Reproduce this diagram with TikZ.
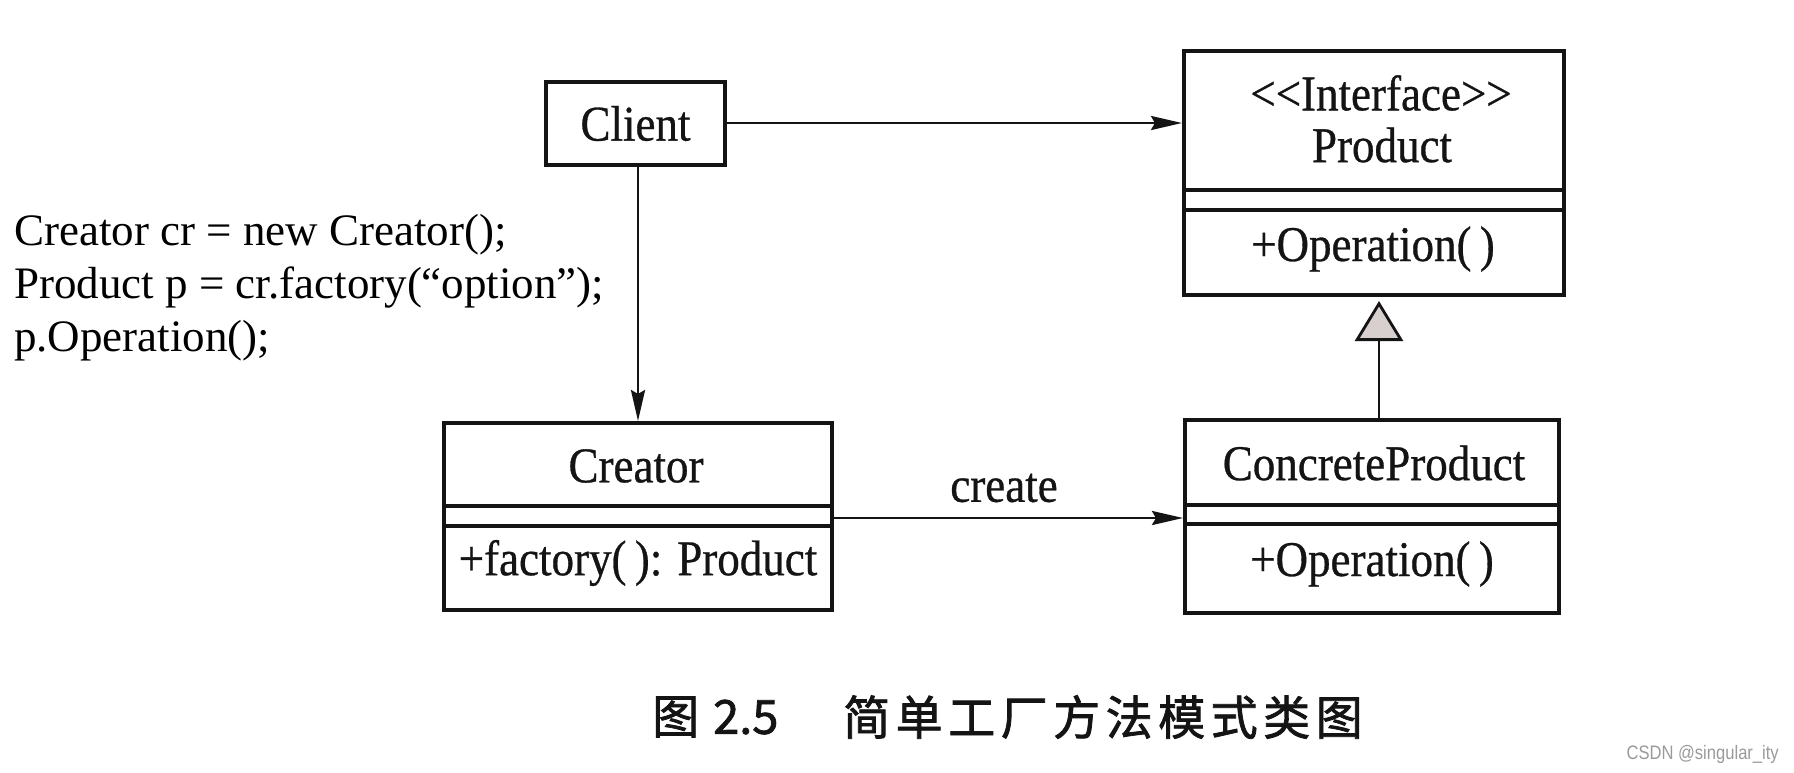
\documentclass[tikz,border=0pt]{standalone}
\usepackage{fontspec}
\setmainfont{Liberation Serif}
\newfontfamily\diagfont[FakeStretch=0.9, FakeBold=0.6]{Liberation Serif}
\newfontfamily\cjkfont[FakeBold=1.6]{Noto Sans CJK SC}
\newfontfamily\wmfont[FakeStretch=0.85]{Liberation Sans}
\usetikzlibrary{arrows.meta}
\definecolor{inkc}{HTML}{141414}
\definecolor{trifill}{HTML}{D8CFCF}
\definecolor{wmgray}{HTML}{9A9A9A}
\newcommand{\capch}[1]{\makebox[52.5pt][l]{#1}}
\begin{document}
\begin{tikzpicture}[x=1pt,y=-1pt,
  umlbox/.style={draw=inkc, line width=4pt, inner sep=0pt},
  lbl/.style={font={\diagfont\fontsize{50}{60}\selectfont}, inner sep=0pt, text=inkc},
  codetxt/.style={font={\fontsize{45}{53}\selectfont}, inner sep=0pt, anchor=base west, text=black},
  sepline/.style={draw=inkc, line width=4pt},
  arr/.style={draw=inkc, line width=2.8pt, -{Stealth[length=31pt,width=14pt,inset=4pt]}},
  inh/.style={draw=inkc, line width=2.8pt, -{Triangle[open, length=40pt, width=48pt, fill=trifill]}},
  captxt/.style={font={\cjkfont\fontsize{47}{56}\selectfont}, inner sep=0pt, anchor=west, text=inkc},
]
\useasboundingbox (0,0) rectangle (1794,772);
\fill[white] (0,0) rectangle (1794,772);

% boxes
\node[umlbox, minimum width=179pt, minimum height=83pt] (client) at (635.5,123.5) {};
\node[umlbox, minimum width=380pt, minimum height=244pt] (product) at (1374,173) {};
\node[umlbox, minimum width=388pt, minimum height=187pt] (creator) at (638,516.5) {};
\node[umlbox, minimum width=374pt, minimum height=193pt] (concrete) at (1372,516.5) {};

% compartment separators
\draw[sepline] (product.west |- 0,190) -- (product.east |- 0,190);
\draw[sepline] (product.west |- 0,210) -- (product.east |- 0,210);
\draw[sepline] (creator.west |- 0,506) -- (creator.east |- 0,506);
\draw[sepline] (creator.west |- 0,526) -- (creator.east |- 0,526);
\draw[sepline] (concrete.west |- 0,505) -- (concrete.east |- 0,505);
\draw[sepline] (concrete.west |- 0,524) -- (concrete.east |- 0,524);

% labels
\node[lbl] (clientlbl) at (client.center) {Client};
\node[lbl] (stereo) at (1381,93) {<\kern0pt<Interface>\kern0pt>};
\node[lbl] (productlbl) at (1382,145) {Product};
\node[lbl] (prodop) at (1373,249) {+Operation(\,)};
\node[lbl] (creatorlbl) at (636,466) {Creator};
\node[lbl] (creatorop) at (638,563) {+factory(\,): Product};
\node[lbl] (concretelbl) at (1374,463) {ConcreteProduct};
\node[lbl] (concreteop) at (1372,564) {+Operation(\,)};
\node[lbl] (createlbl) at (1004,488) {create};

% connectors
\draw[arr] (client.east |- 0,123) -- (product.west |- 0,123);
\draw[arr] (client.south -| 638,0) -- (creator.north -| 638,0);
\draw[arr] (creator.east |- 0,518) -- (concrete.west |- 0,518);
\coordinate (inhtip) at (1379,301);
\draw[inh] (concrete.north -| inhtip) -- (inhtip);

% code text
\node[codetxt] (code1) at (14,245) {Creator cr = new Creator();};
\node[codetxt] (code2) at (14,298) {Product p = cr.factory(“option”);};
\node[codetxt] (code3) at (14,351) {p.Operation();};

% caption
\node[captxt] (capnum) at (652,717) {图\hspace{14pt}2.5};
\node[captxt] (captitle) at (843,717) {\capch{简}\capch{单}\capch{工}\capch{厂}\capch{方}\capch{法}\capch{模}\capch{式}\capch{类}图};

% watermark
\node[font={\wmfont\fontsize{19.5}{22}\selectfont}, text=wmgray, inner sep=0pt, anchor=east] (wm) at (1779,754) {CSDN @singular\_ity};
\end{tikzpicture}
\end{document}
